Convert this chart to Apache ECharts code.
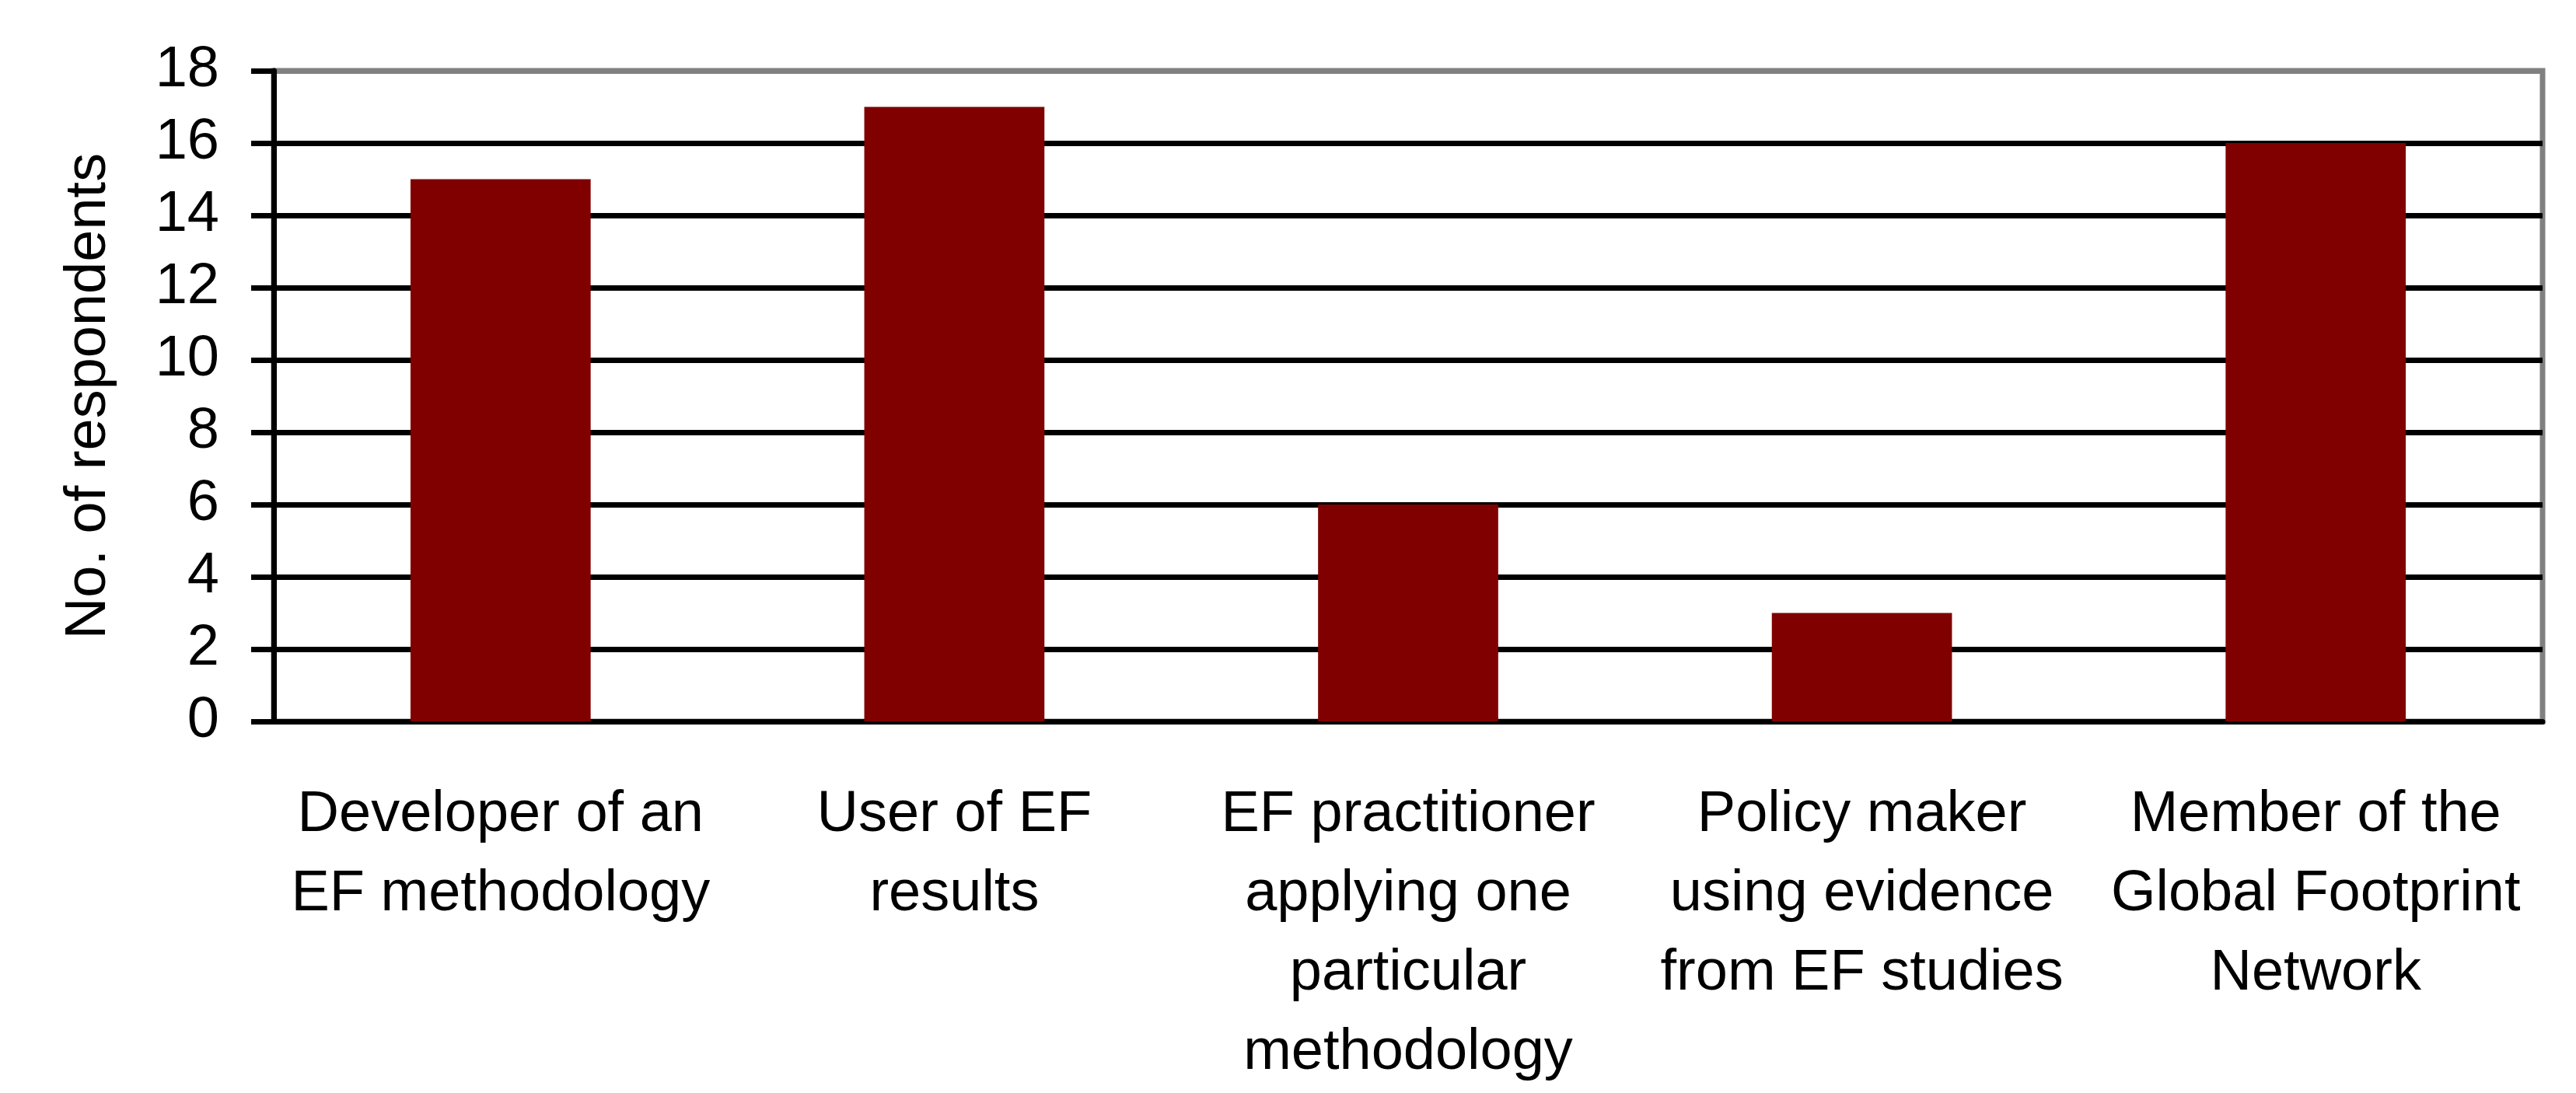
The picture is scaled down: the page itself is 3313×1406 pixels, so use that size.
<!DOCTYPE html>
<html>
<head>
<meta charset="utf-8">
<script src="https://cdn.jsdelivr.net/npm/echarts@6/dist/echarts.min.js"></script>
<style>
  html, body { margin: 0; padding: 0; background: #fff; }
  #barMyCharts { width: 3313px; height: 1406px; }
</style>
</head>
<body>
<div id="barMyCharts"></div>
<script>
// categories (x axis)
const categories = [
  "Developer of an\nEF methodology",
  "User of EF\nresults",
  "EF practitioner\napplying one\nparticular\nmethodology",
  "Policy maker\nusing evidence\nfrom EF studies",
  "Member of the\nGlobal Footprint\nNetwork",
];
// no. of respondents per category
const respondents = [15, 17, 6, 3, 16];
// y axis range
const yMin = 0;
const yMax = 18;
const yStep = 2;

const font = "'Liberation Sans', Arial, sans-serif";

let myChart = echarts.init(document.getElementById("barMyCharts"));

let option = {
  animation: false,
  backgroundColor: "#fff",
  grid: {
    left: 352,
    right: 43,
    top: 91,
    bottom: 471,
    show: true,
    borderColor: "#808080",
    borderWidth: 7,
  },
  xAxis: {
    type: "category",
    data: categories,
    axisLine: { lineStyle: { color: "#000", width: 7 } },
    axisTick: { length: 27, lineStyle: { color: "#000", width: 7 } },
    axisLabel: {
      interval: 0,
      margin: 70,
      color: "#000",
      fontSize: 74,
      fontFamily: font,
      lineHeight: 102,
    },
  },
  yAxis: {
    type: "value",
    min: yMin,
    max: yMax,
    interval: yStep,
    name: "No. of respondents",
    nameLocation: "middle",
    nameGap: 200,
    nameTextStyle: { color: "#000", fontSize: 74, fontFamily: font },
    axisLine: { show: true, lineStyle: { color: "#000", width: 7 } },
    axisTick: { show: true, length: 29, lineStyle: { color: "#000", width: 7 } },
    axisLabel: { margin: 70, color: "#000", fontSize: 74, fontFamily: font },
    splitLine: {
      show: true,
      lineStyle: {
        width: 7,
        color: ["#000", "#000", "#000", "#000", "#000", "#000", "#000", "#000", "#000", "#808080"],
      },
    },
  },
  series: [
    {
      name: "No. of respondents",
      type: "bar",
      data: respondents,
      barWidth: "39.7%",
      itemStyle: { color: "#800000" },
    },
  ],
};

myChart.setOption(option);
</script>
</body>
</html>
